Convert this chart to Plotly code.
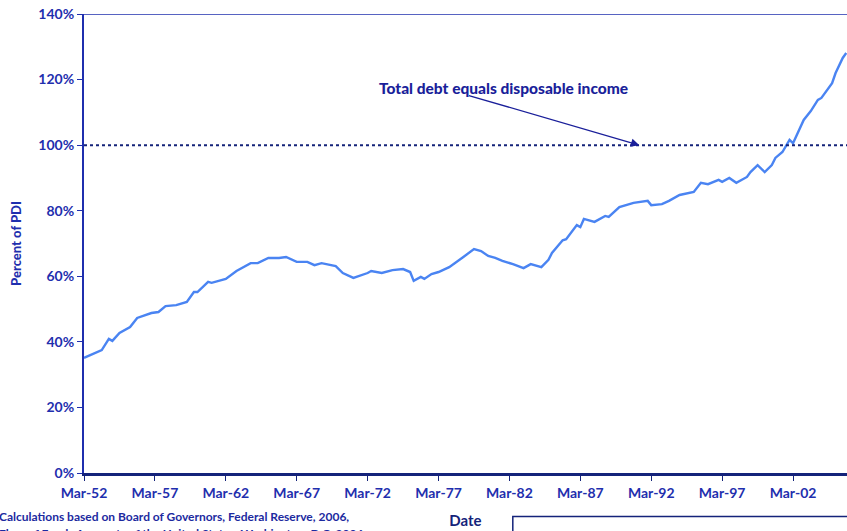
import plotly.graph_objects as go

# quarter dates (Mar-52 = index 0) and debt / personal disposable income (%)
quarter_index = [0, 5, 7, 8, 10, 13, 15, 19, 21, 23, 26, 29, 31, 32, 35, 36, 40, 43, 47, 49,
                 52, 55, 57, 60, 63, 65, 67, 71, 73, 76, 80, 81, 84, 87, 90, 92, 93, 95, 96, 98,
                 100, 103, 107, 110, 112, 114, 116, 118, 121, 124, 126, 129, 131, 132, 135, 136,
                 139, 140, 141, 144, 147, 148, 151, 155, 159, 160, 163, 165, 168, 172, 174, 176,
                 179, 180, 182, 184, 187, 188, 190, 192, 194, 195, 197, 199, 200, 203, 205, 207,
                 208, 211, 212, 214, 215]
debt_pct = [35.1, 37.5, 40.9, 40.3, 42.7, 44.5, 47.3, 48.8, 49.1, 50.9, 51.2, 52.2, 55.2, 55.2,
            58.3, 58.0, 59.2, 61.6, 64.0, 64.0, 65.6, 65.6, 65.9, 64.4, 64.4, 63.4, 64.0, 63.1,
            61.0, 59.5, 61.0, 61.6, 61.0, 61.9, 62.2, 61.3, 58.6, 59.8, 59.2, 60.7, 61.3, 62.8,
            65.9, 68.3, 67.7, 66.2, 65.6, 64.7, 63.7, 62.5, 63.7, 62.8, 65.0, 67.1, 71.0, 71.3,
            75.6, 75.0, 77.5, 76.6, 78.4, 78.1, 81.1, 82.4, 83.0, 81.7, 82.0, 83.0, 84.8, 85.7,
            88.5, 88.1, 89.4, 88.8, 90.0, 88.5, 90.3, 91.8, 93.9, 91.8, 93.9, 96.1, 97.9, 101.6,
            100.6, 107.7, 110.4, 113.8, 114.4, 118.9, 122.0, 126.6, 128.1]
y_ticks = [0, 20, 40, 60, 80, 100, 120, 140]
y_tick_labels = ["0%", "20%", "40%", "60%", "80%", "100%", "120%", "140%"]
x_tick_labels = ["Mar-52", "Mar-57", "Mar-62", "Mar-67", "Mar-72", "Mar-77", "Mar-82",
                 "Mar-87", "Mar-92", "Mar-97", "Mar-02"]

dates = [f"{1952 + q // 4}-{3 + 3 * (q % 4):02d}-01" for q in quarter_index]
tick_dates = [f"{1952 + 5 * i}-03-01" for i in range(len(x_tick_labels))]

BLUE = "#1f2fae"
NAVY = "#14237a"
FONT = "Lato"

fig = go.Figure()
fig.add_trace(go.Scatter(x=dates, y=debt_pct, mode="lines",
                         line=dict(color="#4a84f2", width=2.4), showlegend=False))

fig.update_layout(
    width=847, height=531,
    margin=dict(l=84, r=0, t=14, b=58),
    paper_bgcolor="white", plot_bgcolor="white",
    font=dict(family=FONT, color=BLUE),
    xaxis=dict(type="date", range=["1952-03-01", "2005-12-20"],
               tickvals=tick_dates, ticktext=x_tick_labels,
               ticks="outside", ticklen=5, tickcolor=NAVY, tickwidth=1,
               showline=True, linecolor=NAVY, linewidth=2.5,
               showgrid=False, zeroline=False,
               tickfont=dict(family=FONT, size=14, color=BLUE, weight="bold"),
               title=dict(text="Date", standoff=16,
                          font=dict(family=FONT, size=15, color=NAVY, weight="bold"))),
    yaxis=dict(range=[0, 140], tickvals=y_ticks, ticktext=y_tick_labels,
               ticks="outside", ticklen=5, tickcolor=BLUE, tickwidth=1,
               showline=True, linecolor=BLUE, linewidth=2,
               showgrid=False, zeroline=False,
               tickfont=dict(family=FONT, size=14, color=BLUE, weight="bold"),
               title=dict(text="Percent of PDI", standoff=14,
                          font=dict(family=FONT, size=13, color=BLUE, weight=900))),
)

# top border of plot area
fig.add_shape(type="line", xref="paper", yref="y", x0=0, x1=1, y0=140, y1=140,
              line=dict(color=BLUE, width=1.5))
# 100% reference line
fig.add_shape(type="line", xref="paper", yref="y", x0=0, x1=1, y0=100, y1=100,
              line=dict(color=NAVY, width=2, dash="dot"))

fig.add_annotation(x="1981-10-01", y=117.4, xref="x", yref="y",
                   text="Total debt equals disposable income", showarrow=False,
                   font=dict(family=FONT, size=15.5, color="#1a1f9a", weight=900))
fig.add_annotation(x="1991-05-01", y=100, xref="x", yref="y", text="",
                   showarrow=True, arrowhead=2, arrowsize=1.3, arrowwidth=1.3,
                   arrowcolor="#1a1f9a", ax=-172, ay=-50)

# source note and partial legend box below the chart
fig.add_annotation(x=-0.114, y=-0.095, xref="paper", yref="paper", xanchor="left",
                   yanchor="middle", showarrow=False,
                   text="Calculations based on Board of Governors, Federal Reserve, 2006,",
                   font=dict(family=FONT, size=12, color="#1c2aa0", weight="bold"))
fig.add_annotation(x=-0.114, y=-0.131, xref="paper", yref="paper", xanchor="left",
                   yanchor="middle", showarrow=False,
                   text="Flow of Funds Accounts of the United States, Washington, D.C. 2006",
                   font=dict(family=FONT, size=12, color="#1c2aa0", weight="bold"))
fig.add_shape(type="rect", xref="paper", yref="paper", x0=0.562, x1=1.2,
              y0=-0.095, y1=-0.3, line=dict(color=NAVY, width=1.5))

fig.write_html("out.html", config={"displayModeBar": False},
               post_script="document.body.style.margin='0';document.body.style.overflow='hidden';")
